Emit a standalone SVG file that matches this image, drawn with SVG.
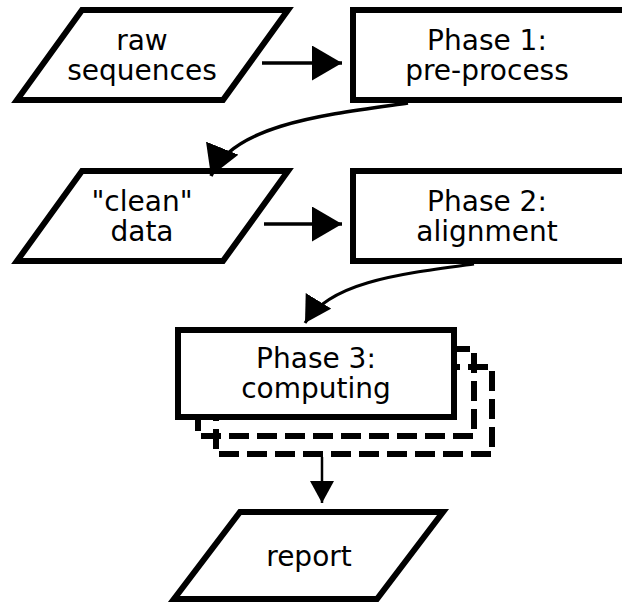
<svg xmlns="http://www.w3.org/2000/svg" width="622" height="603" viewBox="0 0 622 603">
  <style>
    .shape { fill: #fff; stroke: #000; stroke-width: 6; stroke-linejoin: miter; }
    .stack { fill: none; stroke: #000; stroke-width: 6; stroke-dasharray: 20 8; }
    .lbl { font-family: "DejaVu Sans", Verdana, sans-serif; font-size: 28px; text-anchor: middle; fill: #000; }
    .edge { fill: none; stroke: #000; }
  </style>
  <defs>
    <marker id="head-lg" markerUnits="userSpaceOnUse" markerWidth="30" markerHeight="35" refX="30" refY="17.5" orient="auto">
      <path d="M0,0 L30,17.5 L0,35 z" fill="#000"/>
    </marker>
    <marker id="head-md" markerUnits="userSpaceOnUse" markerWidth="26" markerHeight="30" refX="26" refY="15" orient="auto">
      <path d="M0,0 L26,15 L0,30 z" fill="#000"/>
    </marker>
    <marker id="head-sm" markerUnits="userSpaceOnUse" markerWidth="22" markerHeight="24" refX="22" refY="12" orient="auto">
      <path d="M0,0 L22,12 L0,24 z" fill="#000"/>
    </marker>
  </defs>

  <g id="raw-sequences">
    <polygon class="shape" points="82,10 288,10 223,100 17,100"/>
    <text class="lbl" x="142" y="50">raw</text>
    <text class="lbl" x="142" y="80">sequences</text>
  </g>

  <g id="phase1">
    <rect class="shape" x="353" y="10" width="272" height="90"/>
    <text class="lbl" x="487" y="50">Phase 1:</text>
    <text class="lbl" x="487" y="80">pre-process</text>
  </g>

  <g id="clean-data">
    <polygon class="shape" points="82,171 288,171 223,261 17,261"/>
    <text class="lbl" x="142" y="211">"clean"</text>
    <text class="lbl" x="142" y="241">data</text>
  </g>

  <g id="phase2">
    <rect class="shape" x="353" y="171" width="272" height="90"/>
    <text class="lbl" x="487" y="211">Phase 2:</text>
    <text class="lbl" x="487" y="241">alignment</text>
  </g>

  <g id="phase3">
    <rect class="stack" x="216" y="367" width="276" height="87"/>
    <rect class="stack" x="198" y="349" width="276" height="87"/>
    <rect class="shape" x="178" y="330" width="276" height="87"/>
    <text class="lbl" x="316" y="368">Phase 3:</text>
    <text class="lbl" x="316" y="398">computing</text>
  </g>

  <g id="report">
    <polygon class="shape" points="240,512 443,512 377,599 174,599"/>
    <text class="lbl" x="309" y="566">report</text>
  </g>

  <g id="connectors">
    <path class="edge" stroke-width="3.5" d="M262,63 H342" marker-end="url(#head-lg)"/>
    <path class="edge" stroke-width="3.5" d="M264,224 H342" marker-end="url(#head-lg)"/>
    <path class="edge" stroke-width="3.5" d="M408,103 C330,114 232,124 211,176" marker-end="url(#head-lg)"/>
    <path class="edge" stroke-width="3" d="M474,264 C400,274 330,282 305,323" marker-end="url(#head-md)"/>
    <path class="edge" stroke-width="2.5" d="M322,457 V503" marker-end="url(#head-sm)"/>
  </g>
</svg>
